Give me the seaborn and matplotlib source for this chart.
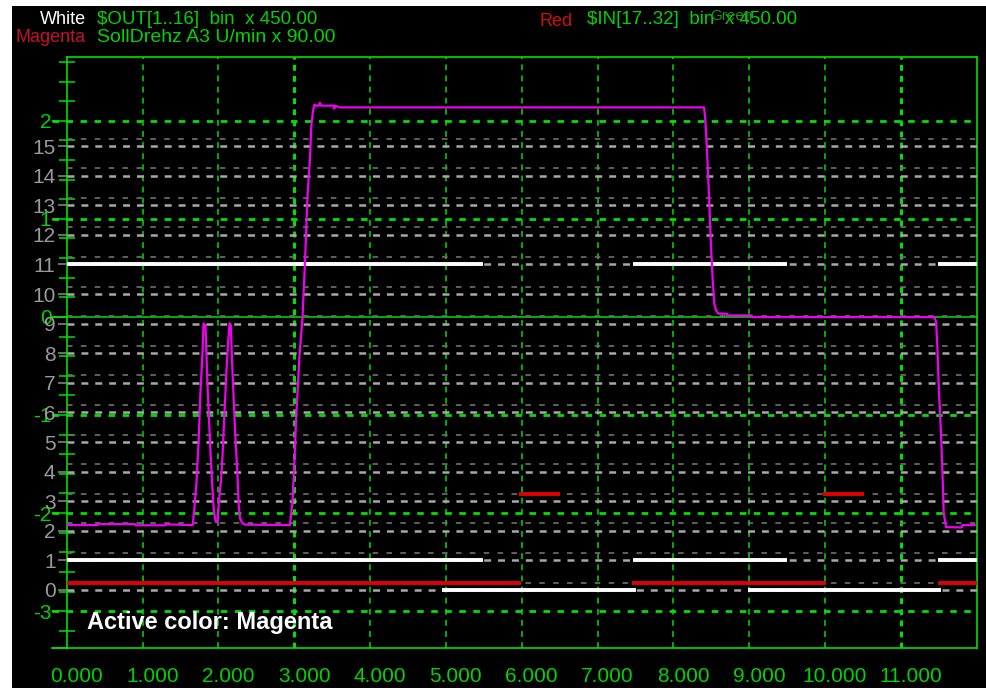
import matplotlib
matplotlib.use("Agg")
import numpy as np
import seaborn as sns
import matplotlib.pyplot as plt
import matplotlib.transforms as mtransforms
from matplotlib.patches import Rectangle
from matplotlib.ticker import FixedLocator, MultipleLocator

# ---- dados ----
# canal Magenta (SollDrehz A3), escala verde
t_mag = [0.000, 0.40, 0.41, 0.90, 0.91, 1.30, 1.31, 1.662,
         1.679, 1.712, 1.741, 1.764, 1.791, 1.804, 1.830, 1.837, 1.857,
         1.896, 1.923, 1.943, 1.969, 1.991, 2.008, 2.035, 2.055, 2.081,
         2.107, 2.131, 2.147, 2.163, 2.180, 2.220, 2.250, 2.268, 2.285,
         2.312, 2.351, 2.945, 2.958, 2.978, 3.004, 3.024, 3.044, 3.070,
         3.110, 3.143, 3.176, 3.208, 3.226, 3.248, 3.268, 3.288, 3.327,
         3.338, 3.354, 3.518, 3.527, 3.545, 3.595, 8.404, 8.421, 8.444,
         8.470, 8.493, 8.519, 8.540, 8.563, 8.593, 8.704, 8.708, 9.033,
         9.037, 11.437, 11.464, 11.481, 11.500, 11.530, 11.552, 11.565,
         11.596, 11.803, 11.813, 11.978]
v_mag = [-2.123, -2.123, -2.113, -2.113, -2.125, -2.125, -2.115, -2.123,
         -1.991, -1.685, -1.237, -0.769, -0.361, -0.066, -0.087, -0.239, -0.698,
         -1.380, -1.767, -2.001, -2.093, -2.093, -1.869, -1.665, -1.410, -0.972,
         -0.545, -0.239, -0.066, -0.076, -0.443, -1.156, -1.584, -1.919, -2.052,
         -2.098, -2.118, -2.123, -2.021, -1.869, -1.461, -1.054, -0.769, -0.392,
         -0.005, 0.575, 1.237, 1.614, 1.950, 2.103, 2.164, 2.154, 2.154,
         2.184, 2.154, 2.154, 2.123, 2.154, 2.136, 2.136, 2.021, 1.696,
         1.237, 0.779, 0.372, 0.137, 0.066, 0.033, 0.033, 0.015, 0.015,
         -0.002, -0.002, -0.046, -0.300, -0.718, -1.197, -1.665, -2.001,
         -2.144, -2.147, -2.123, -2.123]

# canais binários (intervalos em que o bit está ligado)
white_bit11 = [(0.00, 5.49), (7.47, 9.50), (11.49, 12.00)]
white_bit1 = [(0.00, 5.49), (7.47, 9.50), (11.49, 12.00)]
white_bit0 = [(4.95, 7.51), (8.99, 11.53)]
red_bit0 = [(0.00, 5.99), (7.46, 10.01), (11.49, 12.00)]
red_bit3 = [(5.97, 6.50), (9.97, 10.52)]

bit_levels = list(range(16))
x_major = list(range(12))
x_labels = ["0.000", "1.000", "2.000", "3.000", "4.000", "5.000",
            "6.000", "7.000", "8.000", "9.000", "10.000", "11.000"]
green_major = [-3, -2, -1, 0, 1, 2]
green_labels = ["-3", "-2", "-1", "0", "1", "2"]
green_dashed = [2, 1, -1, -2, -3]

# ---- estilo ----
GREEN = "#00e000"
GREEN_TXT = "#00d400"
GRAY_TXT = "#9a9a9a"
MAGENTA = "#f000f0"
RED = "#e00000"

sns.set_theme(style="dark", rc={"axes.facecolor": "black", "figure.facecolor": "white",
                                 "axes.grid": False})
plt.rcParams["lines.scale_dashes"] = False
plt.rcParams["axes.unicode_minus"] = False
plt.rcParams["font.family"] = ["Liberation Sans", "DejaVu Sans"]
NARROW = ["Liberation Sans Narrow", "Liberation Sans", "DejaVu Sans"]

fig = plt.figure(figsize=(9.87, 6.88), dpi=100)
fig.add_artist(Rectangle((12 / 987, 0), 1 - 12 / 987, 1 - 6 / 688, transform=fig.transFigure,
                         facecolor="black", edgecolor="none", zorder=-10))

ax = fig.add_axes([66.7 / 987, 40 / 688, 910 / 987, 591.3 / 688])
ax.set_facecolor("black")
ax.set_xlim(0, 12)
ax.set_ylim(-3.376, 2.653)

# grade vertical
for x in x_major[1:]:
    thick = x in (3, 11)
    ax.axvline(x, color=GREEN, lw=2.2 if thick else 1.1, ls=(0, (4.2, 3.8)), zorder=1)

# linhas horizontais da escala verde
for y in green_dashed:
    ax.axhline(y, xmin=-0.016, xmax=1, color=GREEN, lw=2.0, ls=(0, (4.7, 5.4)),
               clip_on=False, zorder=1)
ax.axhline(0, xmin=-0.016, xmax=1, color=GREEN, lw=1.1, clip_on=False, zorder=1)

for s in ax.spines.values():
    s.set_color(GREEN)
    s.set_linewidth(1.2)
ax.plot([-0.016, 0], [0, 0], transform=ax.transAxes, color=GREEN, lw=1.4, clip_on=False)

ax.set_xticks(x_major, x_labels)
ax.xaxis.set_minor_locator(MultipleLocator(0.2))
ax.tick_params(axis="x", which="major", direction="inout", length=18, width=1.1,
               color=GREEN, labelcolor=GREEN_TXT, labelsize=15, pad=5)
ax.tick_params(axis="x", which="minor", direction="inout", length=10.5, width=1.1, color=GREEN)
offset = mtransforms.ScaledTranslation(10 / 100, 0, fig.dpi_scale_trans)
for lab in ax.get_xticklabels():
    lab.set_transform(lab.get_transform() + offset)
    lab.set_family(NARROW)

ax.set_yticks(green_major, green_labels)
green_minor = [v for v in np.round(np.arange(-3.2, 2.61, 0.2), 1) if v not in green_major]
ax.yaxis.set_minor_locator(FixedLocator(green_minor))
ax.tick_params(axis="y", which="major", direction="out", length=10.5, width=1.1,
               color=GREEN, labelcolor=GREEN_TXT, labelsize=15, pad=0.5)
ax.tick_params(axis="y", which="minor", direction="inout", length=11.5, width=1.1, color=GREEN)
for lab in ax.get_yticklabels():
    lab.set_family(NARROW)

# ---- canais binários ----
ax2 = ax.twinx()
ax2.set_ylim(-1.96, 18.02)
for s in ax2.spines.values():
    s.set_visible(False)
for k in bit_levels:
    ax2.axhline(k, color="#a8a8a8", lw=1.8, ls=(0, (5, 5)), zorder=1)
    ax2.axhline(k + 0.25, color="#707070", lw=1.2, ls=(0, (4, 6)), zorder=1)

for level, spans in [(11, white_bit11), (1, white_bit1), (0, white_bit0)]:
    for a, b in spans:
        ax2.hlines(level, a, b, color="white", lw=2.8, zorder=3)
for level, spans in [(0, red_bit0), (3, red_bit3)]:
    for a, b in spans:
        ax2.hlines(level + 0.24, a, b, color=RED, lw=2.8, zorder=3)

ax2.set_yticks(bit_levels, [str(k) for k in bit_levels])
ax2.tick_params(axis="y", left=True, labelleft=True, right=False, labelright=False,
                direction="out", length=6.5, width=1.1, color="#8c8c8c",
                labelcolor=GRAY_TXT, labelsize=15, pad=1.5)
for lab in ax2.get_yticklabels():
    lab.set_family(NARROW)

# ---- canal Magenta ----
ax3 = ax.twinx()
ax3.set_ylim(ax.get_ylim())
ax3.set_axis_off()
sns.lineplot(x=t_mag, y=v_mag, ax=ax3, color=MAGENTA, linewidth=1.6,
             estimator=None, sort=False, legend=False)

# ---- textos ----
fig.text(86 / 987, 1 - 20 / 688, "White", ha="right", va="center", color="white", fontsize=13)
fig.text(86 / 987, 1 - 38 / 688, "Magenta", ha="right", va="center", color="#c8102e", fontsize=13)
fig.text(97 / 987, 1 - 20 / 688, "$OUT[1..16]  bin  x 450.00", ha="left", va="center",
         color=GREEN_TXT, fontsize=13.5, family=NARROW, parse_math=False)
fig.text(97 / 987, 1 - 38 / 688, "SollDrehz A3 U/min x 90.00", ha="left", va="center",
         color=GREEN_TXT, fontsize=14, family=NARROW)
fig.text(573 / 987, 1 - 21 / 688, "Red", ha="right", va="center", color="#d01010", fontsize=13)
fig.text(587 / 987, 1 - 20 / 688, "$IN[17..32]  bin  x 450.00", ha="left", va="center",
         color=GREEN_TXT, fontsize=13.5, family=NARROW, parse_math=False)
fig.text(731 / 987, 1 - 16 / 688, "Green", ha="center", va="center", color="#1f8f1f", fontsize=11)
fig.text(87 / 987, 1 - 622 / 688, "Active color: Magenta", ha="left", va="center",
         color="white", fontsize=17, fontweight="bold", zorder=20)

fig.savefig("out.png", dpi=100, facecolor="white")
